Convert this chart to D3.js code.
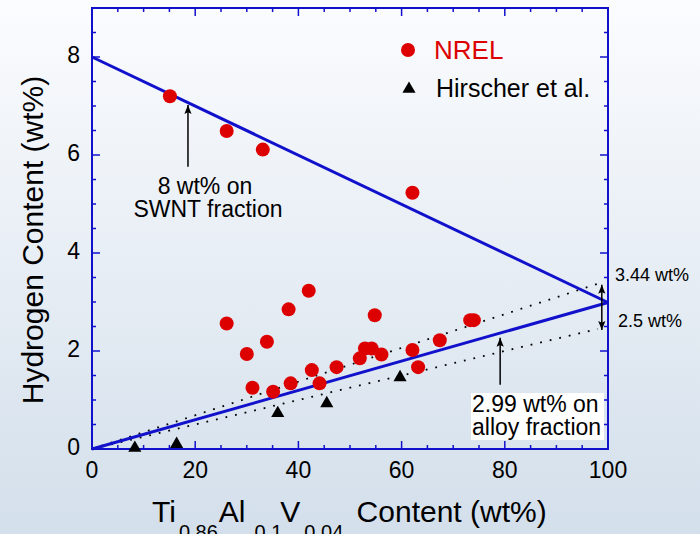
<!DOCTYPE html>
<html>
<head>
<meta charset="utf-8">
<script src="https://cdn.jsdelivr.net/npm/d3@7"></script>
<style>
  body { margin: 0; }
  text { font-family: "Liberation Sans", Arial, sans-serif; }
</style>
</head>
<body>
<div id="chart"></div>
<script>
var width = 700;
var height = 534;
var margin = {top: 8, right: 92, bottom: 85, left: 92};

// NREL data: alloy content (wt%) and hydrogen content (wt%)
var nrelX = [15.1, 26.1, 33.1, 62.1, 26.1, 30.0, 33.9, 38.1, 42.0, 31.1, 35.1, 38.5, 42.6, 44.1, 47.4,
             54.8, 51.9, 52.9, 54.2, 56.1, 62.1, 63.2, 67.4, 73.3, 74.0];
var nrelY = [7.2, 6.49, 6.11, 5.23, 2.56, 1.94, 2.19, 2.85, 3.23, 1.25, 1.17, 1.34, 1.61, 1.34, 1.67,
             2.73, 1.85, 2.05, 2.05, 1.93, 2.02, 1.67, 2.22, 2.63, 2.63];

// Hirscher et al.
var hirscherX = [8.3, 16.4, 36.0, 45.5, 59.7];
var hirscherY = [0.02, 0.1, 0.73, 0.93, 1.46];

// model lines (start / end values at 0 and 100 wt% alloy)
var swntLine = [[0, 8], [100, 2.99]];
var alloyLine = [[0, 0], [100, 2.99]];
var upperDotted = [[0, 0], [98, 3.44 * 0.98]];
var lowerDotted = [[0, 0], [98, 2.5 * 0.98]];

var xTicksMajor = [0, 20, 40, 60, 80, 100];
var yTicksMajor = [0, 2, 4, 6, 8];

var blue = "#1111cc";
var red = "#dd0000";

var svg = d3.select("#chart").append("svg")
    .attr("width", width)
    .attr("height", height);

var grad = svg.append("defs").append("linearGradient")
    .attr("id", "bg")
    .attr("x1", 0).attr("y1", 0).attr("x2", 0).attr("y2", 1);
grad.append("stop").attr("offset", "0%").attr("stop-color", "#fbfcfe");
grad.append("stop").attr("offset", "100%").attr("stop-color", "#d3dfeb");

svg.append("rect")
    .attr("width", width)
    .attr("height", height)
    .attr("fill", "url(#bg)");

var x = d3.scaleLinear().domain([0, 100]).range([margin.left, width - margin.right]);
var y = d3.scaleLinear().domain([0, 9]).range([height - margin.bottom, margin.top]);

/* ticks, inward on all four sides */
var xMinor = d3.range(0, 101, 5);
var yMinor = d3.range(0, 9.01, 0.5);

function tickLen(v, step) { return (Math.abs(v / step - Math.round(v / step)) < 1e-6) ? 8 : 4; }

var ticks = svg.append("g").attr("stroke", blue).attr("stroke-width", 1.5);
xMinor.forEach(function (v) {
    var l = tickLen(v, 20);
    ticks.append("line").attr("x1", x(v)).attr("x2", x(v)).attr("y1", y(0)).attr("y2", y(0) - l);
    ticks.append("line").attr("x1", x(v)).attr("x2", x(v)).attr("y1", y(9)).attr("y2", y(9) + l);
});
yMinor.forEach(function (v) {
    var l = tickLen(v, 2);
    ticks.append("line").attr("y1", y(v)).attr("y2", y(v)).attr("x1", x(0)).attr("x2", x(0) + l);
    ticks.append("line").attr("y1", y(v)).attr("y2", y(v)).attr("x1", x(100)).attr("x2", x(100) - l);
});

// frame
svg.append("rect")
    .attr("x", x(0)).attr("y", y(9))
    .attr("width", x(100) - x(0)).attr("height", y(0) - y(9))
    .attr("fill", "none")
    .attr("stroke", blue)
    .attr("stroke-width", 2);

// tick labels
svg.append("g").selectAll("text")
    .data(xTicksMajor)
    .enter().append("text")
    .attr("x", function (d) { return x(d); })
    .attr("y", y(0) + 29)
    .attr("text-anchor", "middle")
    .attr("font-size", "23px")
    .text(function (d) { return d; });

svg.append("g").selectAll("text")
    .data(yTicksMajor)
    .enter().append("text")
    .attr("x", x(0) - 12)
    .attr("y", function (d) { return y(d) + 6; })
    .attr("text-anchor", "end")
    .attr("font-size", "23px")
    .text(function (d) { return d; });

/* lines */
var line = d3.line().x(function (d) { return x(d[0]); }).y(function (d) { return y(d[1]); });

[upperDotted, lowerDotted].forEach(function (pts) {
    svg.append("path")
        .attr("d", line(pts))
        .attr("fill", "none")
        .attr("stroke", "#000")
        .attr("stroke-width", 1.8)
        .attr("stroke-dasharray", "1.8,8");
});

[swntLine, alloyLine].forEach(function (pts) {
    svg.append("path")
        .attr("d", line(pts))
        .attr("fill", "none")
        .attr("stroke", blue)
        .attr("stroke-width", 3);
});

/* points */
svg.append("g").selectAll("circle")
    .data(d3.zip(nrelX, nrelY))
    .enter().append("circle")
    .attr("cx", function (d) { return x(d[0]); })
    .attr("cy", function (d) { return y(d[1]); })
    .attr("r", 7)
    .attr("fill", red);

var tri = d3.symbol().type(d3.symbolTriangle).size(75);
svg.append("g").selectAll("path")
    .data(d3.zip(hirscherX, hirscherY))
    .enter().append("path")
    .attr("d", tri)
    .attr("transform", function (d) { return "translate(" + x(d[0]) + "," + y(d[1]) + ")"; })
    .attr("fill", "#000");

/* legend */
svg.append("circle").attr("cx", 408).attr("cy", 50).attr("r", 7).attr("fill", red);
svg.append("text").attr("x", 434).attr("y", 59).attr("font-size", "26px").attr("fill", red).text("NREL");
svg.append("path").attr("d", tri).attr("transform", "translate(409,89)").attr("fill", "#000");
svg.append("text").attr("x", 436).attr("y", 97).attr("font-size", "25px").attr("fill", "#000").text("Hirscher et al.");

/* annotations */
var defs = svg.select("defs");
defs.append("marker")
    .attr("id", "head")
    .attr("markerUnits", "userSpaceOnUse")
    .attr("viewBox", "0 -5 10 10")
    .attr("refX", 10).attr("refY", 0)
    .attr("markerWidth", 11).attr("markerHeight", 9)
    .attr("orient", "auto-start-reverse")
    .append("path")
    .attr("d", "M0,-4L10,0L0,4L2,0Z")
    .attr("fill", "#000");

function arrow(x0, y0, y1, both) {
    var a = svg.append("line")
        .attr("x1", x(x0)).attr("x2", x(x0))
        .attr("y1", y(y0)).attr("y2", y(y1))
        .attr("stroke", "#000")
        .attr("stroke-width", 1.5)
        .attr("marker-end", "url(#head)");
    if (both) a.attr("marker-start", "url(#head)");
}

arrow(18.6, 5.76, 7.02, false);
arrow(79.1, 1.31, 2.27, false);
arrow(98.8, 2.43, 3.35, true);

svg.append("text").attr("x", 205).attr("y", 194).attr("font-size", "23px")
    .attr("text-anchor", "middle").text("8 wt% on");
svg.append("text").attr("x", 208).attr("y", 217).attr("font-size", "23px")
    .attr("text-anchor", "middle").text("SWNT fraction");

svg.append("rect")
    .attr("x", 471).attr("y", 393)
    .attr("width", 133).attr("height", 47)
    .attr("fill", "#fff");
svg.append("text").attr("x", 472).attr("y", 412).attr("font-size", "23px").text("2.99 wt% on");
svg.append("text").attr("x", 472).attr("y", 435).attr("font-size", "23px").text("alloy fraction");

svg.append("text").attr("x", 615).attr("y", 281).attr("font-size", "18px").text("3.44 wt%");
svg.append("text").attr("x", 618).attr("y", 327).attr("font-size", "18px").text("2.5 wt%");

/* axis titles */
var xt = svg.append("text").attr("x", 152).attr("y", 522).attr("font-size", "30px");
xt.append("tspan").text("Ti");
xt.append("tspan").attr("font-size", "20px").attr("dx", 3).attr("dy", 17).text("0.86");
xt.append("tspan").attr("dx", 1).attr("dy", -17).text("Al");
xt.append("tspan").attr("font-size", "20px").attr("dx", 9).attr("dy", 17).text("0.1");
xt.append("tspan").attr("dx", -2).attr("dy", -17).text("V");
xt.append("tspan").attr("font-size", "20px").attr("dx", 4).attr("dy", 17).text("0.04");
xt.append("tspan").attr("dx", 5).attr("dy", -17).text(" Content (wt%)");

svg.append("text")
    .attr("transform", "translate(43,240) rotate(-90)")
    .attr("text-anchor", "middle")
    .attr("font-size", "30px")
    .text("Hydrogen Content (wt%)");
</script>
</body>
</html>
